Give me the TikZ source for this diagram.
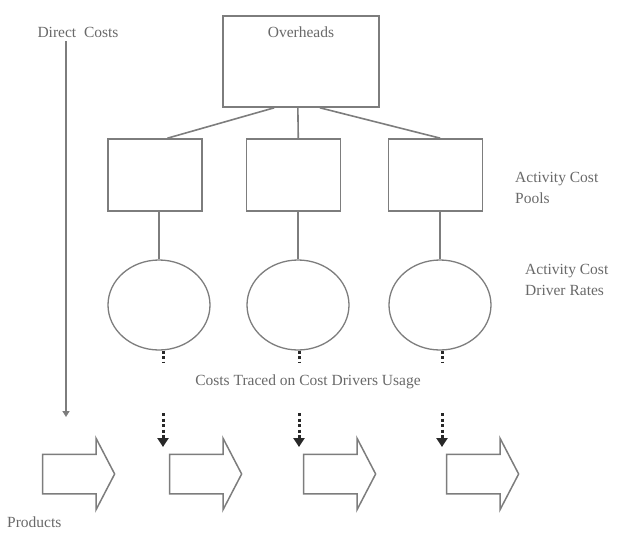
\documentclass[tikz,border=0pt]{standalone}
\usepackage{fontspec}
\setmainfont{Liberation Serif}
\usepackage{tikz}
\usetikzlibrary{shapes.geometric, shapes.arrows, positioning, arrows.meta, calc}
\definecolor{ABCGray}{RGB}{105,105,105}
\definecolor{ABCLine}{RGB}{125,125,125}
\definecolor{ABCDark}{RGB}{40,40,40}

\begin{document}
\begin{tikzpicture}[x=1pt, y=-1pt,
          box/.style={rectangle, draw=ABCLine, line width=1.6pt, fill=white},
          rate/.style={ellipse, draw=ABCLine, line width=1.3pt,
                       minimum width=102pt, minimum height=90pt},
          prod/.style={single arrow, draw=ABCLine, line width=1.5pt,
                       single arrow head extend=16pt, single arrow tip angle=125,
                       inner ysep=19pt, inner xsep=0pt, minimum height=72pt},
          lbl/.style={font=\fontsize{15.5}{21}\selectfont, text=ABCGray,
                      inner sep=0pt, align=left},
          link/.style={ABCLine, line width=1.6pt},
          dirarr/.style={-{Triangle[length=6pt, width=7pt]}, ABCLine, line width=1.6pt},
          trace/.style={ABCDark, line width=3pt, dash pattern=on 3pt off 2.5pt},
          tracearr/.style={trace, -{Triangle[length=9pt, width=11pt]}}
        ]
        \useasboundingbox (0,0) rectangle (625,533);

        % Overheads
        \node[box, minimum width=156pt, minimum height=91pt] (oh) at (301,61.5) {};
        \node[lbl, below=11pt of oh.north] (ohl) {Overheads};

        % Activity cost pools
        \node[box, minimum width=94pt, minimum height=72pt] (p1) at (155,175) {};
        \node[box, minimum width=94pt, minimum height=72pt] (p2) at (293.5,175) {};
        \node[box, minimum width=94pt, minimum height=72pt] (p3) at (435.5,175) {};

        % Driver rates
        \node[rate] (c1) at (159,305) {};
        \node[rate] (c2) at (298,305) {};
        \node[rate] (c3) at (440,305) {};

        % Products
        \node[prod] (a1) at (73.5,474) {};
        \node[prod] (a2) at (200.5,474) {};
        \node[prod] (a3) at (334.5,474) {};
        \node[prod] (a4) at (477.5,474) {};

        % Labels
        \node[lbl] (dc) at (78,32) {Direct\ \ Costs};
        \node[lbl, anchor=west] (pl) at (515,188) {Activity Cost\\Pools};
        \node[lbl, anchor=west] (rl) at (525,280) {Activity Cost\\Driver Rates};
        \node[lbl] (tr) at (308,382) {Costs Traced on Cost Drivers Usage};
        \node[lbl, anchor=west] (pr) at (7,522) {Products};

        % Trace points
        \coordinate (d1) at (163,363);
        \coordinate (d2) at (299,363);
        \coordinate (d3) at (442,363);
        \coordinate (e1) at (163,413);
        \coordinate (e2) at (299,413);
        \coordinate (e3) at (442,413);
        \coordinate (f1) at (163,447);
        \coordinate (f2) at (299,447);
        \coordinate (f3) at (442,447);
        \coordinate (dcend) at (66,417);

        % Connectors
        \draw[link] ($(oh.south west)!0.33!(oh.south east)$) -- ($(p1.north west)!0.63!(p1.north east)$);
        \draw[link] ($(oh.south west)!0.48!(oh.south east)$) -- ($(p2.north west)!0.55!(p2.north east)$);
        \draw[link] ($(oh.south west)!0.62!(oh.south east)$) -- ($(p3.north west)!0.55!(p3.north east)$);
        \draw[link] (c1.north |- p1.south) -- (c1.north);
        \draw[link] (c2.north |- p2.south) -- (c2.north);
        \draw[link] (c3.north |- p3.south) -- (c3.north);
        \draw[dirarr] (dc.south -| dcend) ++(0,4) -- (dcend);

        % Traced costs
        \draw[trace] (c1.south -| d1) -- (d1);
        \draw[trace] (c2.south -| d2) -- (d2);
        \draw[trace] (c3.south -| d3) -- (d3);
        \draw[tracearr] (e1) -- (f1);
        \draw[tracearr] (e2) -- (f2);
        \draw[tracearr] (e3) -- (f3);
      \end{tikzpicture}
\end{document}
